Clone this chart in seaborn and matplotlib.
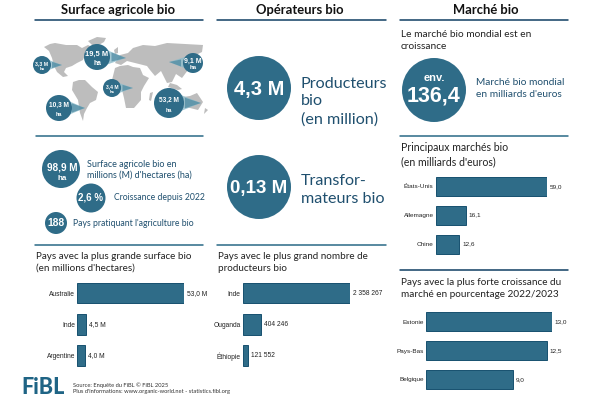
import pandas as pd
import matplotlib.pyplot as plt
from matplotlib.patches import Circle, Polygon
import seaborn as sns

sns.set_theme(style='white')
plt.rcParams['font.family'] = ['Lato', 'DejaVu Sans']

# data
surface_pays = ['Australie', 'Inde', 'Argentine']
surface_vals = [53.0, 4.5, 4.0]
surface_lbls = ['53,0 M', '4,5 M', '4,0 M']

prod_pays = ['Inde', 'Ouganda', 'Éthiopie']
prod_vals = [2358267, 404246, 121552]
prod_lbls = ['2 358 267', '404 246', '121 552']

marche_pays = ['États-Unis', 'Allemagne', 'Chine']
marche_vals = [59.0, 16.1, 12.6]
marche_lbls = ['59,0', '16,1', '12,6']

croiss_pays = ['Estonie', 'Pays-Bas', 'Belgique']
croiss_vals = [13.0, 12.5, 9.0]
croiss_lbls = ['13,0', '12,5', '9,0']

BLUE = '#2f6c88'
EDGE = '#17506f'
NAVY = '#0f3f63'
LINE = '#2a6a86'
TXT = '#1f4f6e'

fig = plt.figure(figsize=(6, 4), dpi=100)
bg = fig.add_axes([0, 0, 1, 1])
bg.set_xlim(0, 600)
bg.set_ylim(400, 0)
bg.axis('off')


def hbar(names, vals, lbls, x0, x1, top, bottom, vmax, size=4.8):
    # axes placed in pixels, bars come from seaborn
    ax = fig.add_axes([x0 / 600, 1 - bottom / 400, (x1 - x0) / 600, (bottom - top) / 400])
    df = pd.DataFrame({'pays': names, 'val': vals})
    sns.barplot(data=df, x='val', y='pays', ax=ax, color=BLUE, saturation=1,
                width=0.66, edgecolor=EDGE, linewidth=0.7)
    ax.set_xlim(0, vmax)
    ax.set_xlabel('')
    ax.set_ylabel('')
    ax.set_xticks([])
    ax.tick_params(axis='y', length=0, pad=1.5)
    for t in ax.get_yticklabels():
        t.set_fontsize(size)
        t.set_fontfamily('Liberation Sans')
        t.set_color('#222222')
    sns.despine(ax=ax, left=True, bottom=True)
    ax.patch.set_alpha(0)
    for i, (v, l) in enumerate(zip(vals, lbls)):
        ax.annotate(l, (v, i), xytext=(2, 0), textcoords='offset points', va='center',
                    fontsize=size, family='Liberation Sans', color='#222222')


hbar(surface_pays, surface_vals, surface_lbls, 77, 184, 277.5, 371, 53.0)
hbar(prod_pays, prod_vals, prod_lbls, 242.7, 350, 277.5, 371, 2358267)
hbar(marche_pays, marche_vals, marche_lbls, 435.7, 547, 172, 258.5, 59.0, size=4.6)
hbar(croiss_pays, croiss_vals, croiss_lbls, 426, 552, 307, 394, 13.0, size=4.6)

# world map, rough outlines
continents = [
    [(44, 47), (50, 44), (55, 43), (66, 45), (77, 45), (82, 48), (88, 45), (92, 47), (90, 52), (85, 55),
     (83, 60), (77, 63), (72, 66), (66, 68), (64, 72), (68, 76), (63, 77), (57, 72), (54, 66), (52, 58), (49, 51)],
    [(88, 41), (97, 37), (106, 38), (104, 42), (97, 46), (92, 45)],
    [(73, 82), (79, 80), (85, 80), (92, 87), (98, 92), (96, 100), (90, 103), (87, 108), (84, 114), (83, 121),
     (80, 113), (78, 100), (72, 90)],
    [(115, 68), (120, 66), (128, 65), (133, 67), (140, 68), (143, 75), (149, 78), (144, 86), (141, 92), (141, 100),
     (134, 108), (126, 108), (124, 98), (122, 90), (116, 84), (112, 80)],
    [(115, 63), (120, 55), (128, 53), (133, 48), (143, 45), (155, 46), (167, 43), (185, 44), (203, 45), (202, 52),
     (194, 56), (192, 63), (188, 70), (182, 78), (176, 74), (172, 82), (167, 83), (161, 71), (155, 76), (150, 70),
     (147, 66), (135, 63), (127, 61), (121, 65)],
    [(183, 97), (190, 96), (197, 93), (203, 102), (198, 110), (190, 108), (183, 108)],
    [(170, 83), (177, 85), (182, 89), (178, 90), (168, 87)],
    [(193, 64), (196, 62), (195, 69), (191, 71)],
    [(150, 93), (153, 92), (151, 101), (149, 100)],
    [(114, 50), (118, 47), (118, 53), (115, 54)],
    [(205, 108), (208, 110), (204, 114)],
]
for pts in continents:
    bg.add_patch(Polygon(pts, closed=True, fc='#bdbdbd', ec='none'))

# bubbles on the map: x, y, r, tip x, tip y, text, size
bubbles = [
    (42, 65, 9, 62, 65, '3,3 M', 3.8),
    (97, 57, 13, 126, 58, '19,5 M', 5.4),
    (193, 63, 10, 169, 62, '9,1 M', 5.0),
    (112, 88, 9, 133, 88, '3,4 M', 3.6),
    (59, 108, 13, 85, 108, '10,3 M', 4.7),
    (169, 103, 15, 201, 103, '53,2 M', 4.7),
]
for x, y, r, tx, ty, lab, fs in bubbles:
    bg.add_patch(Polygon([(x, y - r * 0.85), (x, y + r * 0.85), (tx, ty)], fc='#8dbccb', alpha=0.8, ec='none'))
    bg.add_patch(Polygon([(x + (tx - x) * 0.5, y - r * 0.35), (x + (tx - x) * 0.5, y + r * 0.35), (tx, ty)],
                         fc='#3f7f99', alpha=0.6, ec='none'))
    bg.add_patch(Circle((x, y), r, fc=BLUE, ec='none', zorder=3))
    bg.text(x, y - r * 0.18, lab, color='white', fontsize=fs, fontweight='bold', ha='center', va='center',
            family='Liberation Sans', zorder=4)
    bg.text(x, y + r * 0.48, 'ha', color='white', fontsize=fs - 0.6, fontweight='bold', ha='center', va='center',
            family='Liberation Sans', zorder=4)

# headings and rules
for x, t in [(118, 'Surface agricole bio'), (300, 'Opérateurs bio'), (486, 'Marché bio')]:
    bg.text(x, 9.5, t, fontsize=9.4, fontweight='bold', ha='center', va='center', color='#111111')
rules = [(35, 203, 20, NAVY), (217, 386, 20, NAVY), (400, 568, 20, NAVY), (36, 203, 136, LINE),
         (400, 568, 136, LINE), (35, 203, 244.5, LINE), (217, 386, 245, LINE), (400, 568, 270, NAVY)]
for a, b, y, c in rules:
    bg.plot([a, b], [y, y], color=c, lw=1.1)

# key figures
circles = [(61, 169, 19), (91, 198, 14.5), (56, 223, 11), (259, 88, 32), (259, 187, 32), (434, 90, 32)]
for x, y, r in circles:
    bg.add_patch(Circle((x, y), r, fc=BLUE, ec='none'))


def white(x, y, t, fs):
    bg.text(x, y, t, color='white', fontsize=fs, fontweight='bold', ha='center', va='center', family='Liberation Sans')


white(62, 167, '98,9 M', 7.2)
white(62, 178, 'ha', 5.8)
white(91, 198, '2,6 %', 7)
white(56, 223, '188', 7.4)
white(259, 89, '4,3 M', 14.5)
white(259, 188, '0,13 M', 13.5)
white(434, 78, 'env.', 8)
white(434, 96, '136,4', 15.5)


def label(x, y, t, fs, c=TXT, ls=1.32):
    bg.text(x, y, t, fontsize=fs, color=c, ha='left', va='center', linespacing=ls)


label(87, 169.5, "Surface agricole bio en\nmillions (M) d'hectares (ha)", 6.5, ls=1.25)
label(114, 198, 'Croissance depuis 2022', 6.2)
label(73, 223, "Pays pratiquant l'agriculture bio", 6.2)
label(301, 101.5, 'Producteurs\nbio\n(en million)', 11.6)
label(301, 190, 'Transfor-\nmateurs bio', 11.6)
label(476, 88.5, "Marché bio mondial\nen milliards d'euros", 7.3)

dark = '#222222'
label(36, 262.5, "Pays avec la plus grande surface bio\n(en millions d'hectares)", 7.1, dark)
label(218, 262.5, 'Pays avec le plus grand nombre de\nproducteurs bio', 7.1, dark)
label(401, 40.5, 'Le marché bio mondial est en\ncroissance', 7.3, dark)
label(401, 154.5, "Principaux marchés bio\n(en milliards d'euros)", 7.6, dark)
label(401, 288.5, 'Pays avec la plus forte croissance du\nmarché en pourcentage 2022/2023', 7.2, dark)

# logo and source
bg.text(21, 387, 'FiBL', fontsize=15.5, fontweight='black', color='#1f6485', ha='left', va='center')
label(73, 388.5, "Source: Enquête du FiBL © FiBL 2025\nPlus d'informations: www.organic-world.net - statistics.fibl.org", 4.15, '#333333', ls=1.2)

fig.savefig('out.png', dpi=100)
